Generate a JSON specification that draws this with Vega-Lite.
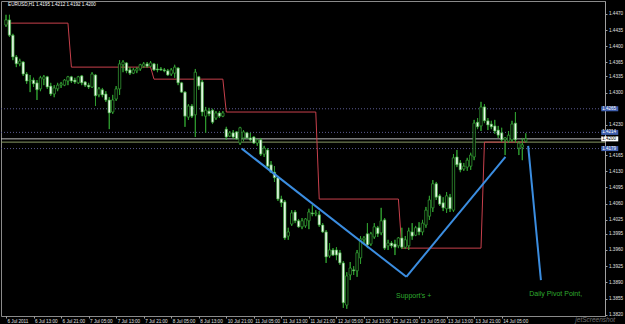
{
  "$schema": "https://vega.github.io/schema/vega-lite/v6.json",
  "width": 604,
  "height": 315,
  "autosize": "none",
  "padding": {"left": 1, "top": 1, "right": 20, "bottom": 8},
  "background": "#000000",
  "config": {
    "view": {"stroke": "#8a8a8a", "strokeWidth": 1, "fill": "#000000"},
    "font": "Liberation Sans",
    "axis": {"labelOverlap": false, "labelFlush": false, "labelBound": false, "grid": false, "title": null}
  },
  "resolve": {"axis": {"x": "independent", "y": "independent"}},
  "datasets": {
    "bars": [
      {"i":0,"o":1.4446,"h":1.4468,"l":1.4442,"c":1.4457},
      {"i":1,"o":1.4457,"h":1.4468,"l":1.4420,"c":1.4424},
      {"i":2,"o":1.4424,"h":1.4427,"l":1.4370,"c":1.4377},
      {"i":3,"o":1.4377,"h":1.4381,"l":1.4355,"c":1.4362},
      {"i":4,"o":1.4362,"h":1.4373,"l":1.4357,"c":1.4368},
      {"i":5,"o":1.4366,"h":1.4368,"l":1.4336,"c":1.4340},
      {"i":6,"o":1.4340,"h":1.4344,"l":1.4319,"c":1.4325},
      {"i":7,"o":1.4325,"h":1.4338,"l":1.4301,"c":1.4327},
      {"i":8,"o":1.4327,"h":1.4332,"l":1.4312,"c":1.4319},
      {"i":9,"o":1.4321,"h":1.4327,"l":1.4284,"c":1.4306},
      {"i":10,"o":1.4308,"h":1.4336,"l":1.4303,"c":1.4332},
      {"i":11,"o":1.4329,"h":1.4338,"l":1.4316,"c":1.4334},
      {"i":12,"o":1.4334,"h":1.4336,"l":1.4308,"c":1.4312},
      {"i":13,"o":1.4314,"h":1.4321,"l":1.4293,"c":1.4297},
      {"i":14,"o":1.4297,"h":1.4316,"l":1.4290,"c":1.4310},
      {"i":15,"o":1.4308,"h":1.4321,"l":1.4303,"c":1.4316},
      {"i":16,"o":1.4316,"h":1.4323,"l":1.4310,"c":1.4319},
      {"i":17,"o":1.4316,"h":1.4329,"l":1.4314,"c":1.4327},
      {"i":18,"o":1.4325,"h":1.4336,"l":1.4316,"c":1.4334},
      {"i":19,"o":1.4334,"h":1.4336,"l":1.4321,"c":1.4325},
      {"i":20,"o":1.4327,"h":1.4332,"l":1.4319,"c":1.4323},
      {"i":21,"o":1.4321,"h":1.4336,"l":1.4319,"c":1.4334},
      {"i":22,"o":1.4336,"h":1.4338,"l":1.4316,"c":1.4321},
      {"i":23,"o":1.4323,"h":1.4325,"l":1.4312,"c":1.4316},
      {"i":24,"o":1.4316,"h":1.4321,"l":1.4308,"c":1.4312},
      {"i":25,"o":1.4312,"h":1.4344,"l":1.4310,"c":1.4340},
      {"i":26,"o":1.4338,"h":1.4340,"l":1.4271,"c":1.4293},
      {"i":27,"o":1.4295,"h":1.4312,"l":1.4290,"c":1.4308},
      {"i":28,"o":1.4306,"h":1.4310,"l":1.4290,"c":1.4295},
      {"i":29,"o":1.4297,"h":1.4303,"l":1.4280,"c":1.4284},
      {"i":30,"o":1.4284,"h":1.4290,"l":1.4221,"c":1.4256},
      {"i":31,"o":1.4258,"h":1.4295,"l":1.4254,"c":1.4284},
      {"i":32,"o":1.4286,"h":1.4314,"l":1.4282,"c":1.4308},
      {"i":33,"o":1.4308,"h":1.4370,"l":1.4295,"c":1.4362},
      {"i":34,"o":1.4360,"h":1.4370,"l":1.4344,"c":1.4366},
      {"i":35,"o":1.4364,"h":1.4366,"l":1.4342,"c":1.4347},
      {"i":36,"o":1.4349,"h":1.4355,"l":1.4338,"c":1.4342},
      {"i":37,"o":1.4342,"h":1.4353,"l":1.4340,"c":1.4349},
      {"i":38,"o":1.4347,"h":1.4355,"l":1.4342,"c":1.4351},
      {"i":39,"o":1.4351,"h":1.4362,"l":1.4347,"c":1.4360},
      {"i":40,"o":1.4357,"h":1.4366,"l":1.4353,"c":1.4362},
      {"i":41,"o":1.4362,"h":1.4366,"l":1.4353,"c":1.4357},
      {"i":42,"o":1.4357,"h":1.4368,"l":1.4355,"c":1.4364},
      {"i":43,"o":1.4362,"h":1.4364,"l":1.4347,"c":1.4349},
      {"i":44,"o":1.4351,"h":1.4362,"l":1.4344,"c":1.4349},
      {"i":45,"o":1.4351,"h":1.4355,"l":1.4347,"c":1.4349},
      {"i":46,"o":1.4349,"h":1.4353,"l":1.4344,"c":1.4347},
      {"i":47,"o":1.4347,"h":1.4351,"l":1.4336,"c":1.4338},
      {"i":48,"o":1.4340,"h":1.4353,"l":1.4336,"c":1.4349},
      {"i":49,"o":1.4342,"h":1.4360,"l":1.4332,"c":1.4355},
      {"i":50,"o":1.4353,"h":1.4355,"l":1.4316,"c":1.4321},
      {"i":51,"o":1.4321,"h":1.4323,"l":1.4299,"c":1.4301},
      {"i":52,"o":1.4301,"h":1.4303,"l":1.4226,"c":1.4249},
      {"i":53,"o":1.4247,"h":1.4275,"l":1.4241,"c":1.4271},
      {"i":54,"o":1.4271,"h":1.4275,"l":1.4245,"c":1.4249},
      {"i":55,"o":1.4252,"h":1.4351,"l":1.4204,"c":1.4344},
      {"i":56,"o":1.4334,"h":1.4336,"l":1.4306,"c":1.4314},
      {"i":57,"o":1.4323,"h":1.4327,"l":1.4249,"c":1.4258},
      {"i":58,"o":1.4249,"h":1.4269,"l":1.4213,"c":1.4262},
      {"i":59,"o":1.4260,"h":1.4267,"l":1.4249,"c":1.4254},
      {"i":60,"o":1.4262,"h":1.4265,"l":1.4232,"c":1.4236},
      {"i":61,"o":1.4245,"h":1.4260,"l":1.4241,"c":1.4256},
      {"i":62,"o":1.4256,"h":1.4260,"l":1.4245,"c":1.4249},
      {"i":63,"o":1.4249,"h":1.4260,"l":1.4247,"c":1.4256},
      {"i":64,"o":1.4221,"h":1.4226,"l":1.4198,"c":1.4204},
      {"i":65,"o":1.4206,"h":1.4217,"l":1.4204,"c":1.4213},
      {"i":66,"o":1.4213,"h":1.4219,"l":1.4200,"c":1.4204},
      {"i":67,"o":1.4215,"h":1.4217,"l":1.4198,"c":1.4200},
      {"i":68,"o":1.4191,"h":1.4226,"l":1.4187,"c":1.4224},
      {"i":69,"o":1.4202,"h":1.4219,"l":1.4195,"c":1.4215},
      {"i":70,"o":1.4213,"h":1.4215,"l":1.4200,"c":1.4202},
      {"i":71,"o":1.4202,"h":1.4213,"l":1.4195,"c":1.4198},
      {"i":72,"o":1.4204,"h":1.4206,"l":1.4189,"c":1.4191},
      {"i":73,"o":1.4191,"h":1.4200,"l":1.4185,"c":1.4198},
      {"i":74,"o":1.4198,"h":1.4202,"l":1.4163,"c":1.4167},
      {"i":75,"o":1.4167,"h":1.4185,"l":1.4161,"c":1.4180},
      {"i":76,"o":1.4176,"h":1.4180,"l":1.4137,"c":1.4141},
      {"i":77,"o":1.4144,"h":1.4152,"l":1.4126,"c":1.4128},
      {"i":78,"o":1.4128,"h":1.4141,"l":1.4107,"c":1.4116},
      {"i":79,"o":1.4116,"h":1.4120,"l":1.4066,"c":1.4070},
      {"i":80,"o":1.4070,"h":1.4077,"l":1.4053,"c":1.4062},
      {"i":81,"o":1.4064,"h":1.4068,"l":1.3982,"c":1.3986},
      {"i":82,"o":1.3990,"h":1.4008,"l":1.3982,"c":1.3999},
      {"i":83,"o":1.4016,"h":1.4046,"l":1.4012,"c":1.4040},
      {"i":84,"o":1.4042,"h":1.4046,"l":1.4018,"c":1.4023},
      {"i":85,"o":1.4023,"h":1.4027,"l":1.4008,"c":1.4010},
      {"i":86,"o":1.4010,"h":1.4029,"l":1.4005,"c":1.4023},
      {"i":87,"o":1.4012,"h":1.4029,"l":1.4008,"c":1.4027},
      {"i":88,"o":1.4023,"h":1.4049,"l":1.4005,"c":1.4042},
      {"i":89,"o":1.4040,"h":1.4057,"l":1.4033,"c":1.4038},
      {"i":90,"o":1.4038,"h":1.4046,"l":1.4033,"c":1.4040},
      {"i":91,"o":1.4036,"h":1.4044,"l":1.4010,"c":1.4014},
      {"i":92,"o":1.4014,"h":1.4018,"l":1.3997,"c":1.3999},
      {"i":93,"o":1.3999,"h":1.4003,"l":1.3932,"c":1.3945},
      {"i":94,"o":1.3947,"h":1.3975,"l":1.3943,"c":1.3960},
      {"i":95,"o":1.3960,"h":1.3964,"l":1.3947,"c":1.3949},
      {"i":96,"o":1.3960,"h":1.3966,"l":1.3938,"c":1.3949},
      {"i":97,"o":1.3954,"h":1.3960,"l":1.3928,"c":1.3932},
      {"i":98,"o":1.3932,"h":1.3936,"l":1.3835,"c":1.3846},
      {"i":99,"o":1.3841,"h":1.3912,"l":1.3833,"c":1.3904},
      {"i":100,"o":1.3906,"h":1.3934,"l":1.3895,"c":1.3921},
      {"i":101,"o":1.3917,"h":1.3925,"l":1.3906,"c":1.3915},
      {"i":102,"o":1.3915,"h":1.3960,"l":1.3902,"c":1.3954},
      {"i":103,"o":1.3943,"h":1.3990,"l":1.3930,"c":1.3984},
      {"i":104,"o":1.3982,"h":1.3990,"l":1.3973,"c":1.3986},
      {"i":105,"o":1.3995,"h":1.4018,"l":1.3964,"c":1.3971},
      {"i":106,"o":1.3973,"h":1.3999,"l":1.3969,"c":1.3995},
      {"i":107,"o":1.3988,"h":1.4018,"l":1.3984,"c":1.4010},
      {"i":108,"o":1.4008,"h":1.4012,"l":1.3988,"c":1.3995},
      {"i":109,"o":1.3997,"h":1.4051,"l":1.3992,"c":1.4023},
      {"i":110,"o":1.4025,"h":1.4029,"l":1.3960,"c":1.3964},
      {"i":111,"o":1.3969,"h":1.3982,"l":1.3960,"c":1.3975},
      {"i":112,"o":1.3975,"h":1.3979,"l":1.3964,"c":1.3969},
      {"i":113,"o":1.3973,"h":1.3982,"l":1.3949,"c":1.3966},
      {"i":114,"o":1.3969,"h":1.3988,"l":1.3964,"c":1.3986},
      {"i":115,"o":1.3986,"h":1.4008,"l":1.3962,"c":1.3966},
      {"i":116,"o":1.3966,"h":1.3990,"l":1.3962,"c":1.3982},
      {"i":117,"o":1.3969,"h":1.4008,"l":1.3960,"c":1.4001},
      {"i":118,"o":1.3999,"h":1.4018,"l":1.3982,"c":1.3990},
      {"i":119,"o":1.3992,"h":1.4012,"l":1.3990,"c":1.4008},
      {"i":120,"o":1.4008,"h":1.4020,"l":1.3992,"c":1.3999},
      {"i":121,"o":1.3999,"h":1.4025,"l":1.3992,"c":1.4018},
      {"i":122,"o":1.4014,"h":1.4053,"l":1.4008,"c":1.4046},
      {"i":123,"o":1.4033,"h":1.4077,"l":1.4025,"c":1.4068},
      {"i":124,"o":1.4051,"h":1.4111,"l":1.4042,"c":1.4103},
      {"i":125,"o":1.4103,"h":1.4107,"l":1.4068,"c":1.4074},
      {"i":126,"o":1.4077,"h":1.4081,"l":1.4055,"c":1.4059},
      {"i":127,"o":1.4062,"h":1.4074,"l":1.4044,"c":1.4051},
      {"i":128,"o":1.4049,"h":1.4085,"l":1.4040,"c":1.4077},
      {"i":129,"o":1.4074,"h":1.4081,"l":1.4042,"c":1.4049},
      {"i":130,"o":1.4046,"h":1.4167,"l":1.4042,"c":1.4159},
      {"i":131,"o":1.4161,"h":1.4176,"l":1.4139,"c":1.4144},
      {"i":132,"o":1.4148,"h":1.4154,"l":1.4128,"c":1.4133},
      {"i":133,"o":1.4135,"h":1.4148,"l":1.4131,"c":1.4141},
      {"i":134,"o":1.4139,"h":1.4159,"l":1.4131,"c":1.4154},
      {"i":135,"o":1.4141,"h":1.4170,"l":1.4133,"c":1.4165},
      {"i":136,"o":1.4161,"h":1.4241,"l":1.4154,"c":1.4234},
      {"i":137,"o":1.4236,"h":1.4245,"l":1.4221,"c":1.4226},
      {"i":138,"o":1.4228,"h":1.4280,"l":1.4217,"c":1.4269},
      {"i":139,"o":1.4269,"h":1.4275,"l":1.4234,"c":1.4239},
      {"i":140,"o":1.4239,"h":1.4245,"l":1.4219,"c":1.4230},
      {"i":141,"o":1.4232,"h":1.4239,"l":1.4221,"c":1.4226},
      {"i":142,"o":1.4228,"h":1.4241,"l":1.4211,"c":1.4217},
      {"i":143,"o":1.4219,"h":1.4228,"l":1.4202,"c":1.4208},
      {"i":144,"o":1.4213,"h":1.4224,"l":1.4193,"c":1.4198},
      {"i":145,"o":1.4198,"h":1.4204,"l":1.4165,"c":1.4202},
      {"i":146,"o":1.4195,"h":1.4217,"l":1.4191,"c":1.4208},
      {"i":147,"o":1.4198,"h":1.4239,"l":1.4193,"c":1.4232},
      {"i":148,"o":1.4234,"h":1.4258,"l":1.4191,"c":1.4198},
      {"i":149,"o":1.4180,"h":1.4195,"l":1.4165,"c":1.4191},
      {"i":150,"o":1.4182,"h":1.4202,"l":1.4154,"c":1.4187},
      {"i":151,"o":1.4195,"h":1.4212,"l":1.4192,"c":1.4200}
    ],
    "pivot": [
      {"i":0,"p":1.4450},{"i":18,"p":1.4450},{"i":19,"p":1.4355},{"i":42,"p":1.4355},
      {"i":43,"p":1.4329},{"i":63,"p":1.4329},{"i":64,"p":1.4258},{"i":90,"p":1.4258},
      {"i":91,"p":1.4070},{"i":114,"p":1.4070},{"i":115,"p":1.3964},{"i":138,"p":1.3964},
      {"i":139,"p":1.4193},{"i":151,"p":1.4193}
    ],
    "dots": [{"p":1.4265},{"p":1.4214},{"p":1.4179}],
    "solids": [{"p":1.4200,"k":"bid"},{"p":1.4193,"k":"pivot"}],
    "trend": [
      {"t":"A","i":68.5,"p":1.4179},{"t":"A","i":116.3,"p":1.3902},
      {"t":"B","i":116.3,"p":1.3902},{"t":"B","i":145.1,"p":1.4161},
      {"t":"C","i":151.7,"p":1.4185},{"t":"C","i":155.4,"p":1.3895}
    ],
    "notes": [
      {"i":113.3,"p":1.3860,"t":"Support's  +"},
      {"i":152,"p":1.3865,"t":"Daily Pivot Point,"}
    ],
    "header": [{"i":0.6,"p":1.4489,"t":"EURUSD,H1  1.4195 1.4212 1.4192 1.4200"}],
    "mark": [{"i":165.4,"p":1.3809,"t":"jetScreenshot"}],
    "tags": [
      {"p":1.4265,"t":"1.4265","k":"line"},
      {"p":1.4214,"t":"1.4214","k":"line"},
      {"p":1.4200,"t":"1.4200","k":"bid"},
      {"p":1.4179,"t":"1.4179","k":"line"}
    ]
  },
  "layer": [
    {
      "data": {"name": "bars"},
      "mark": {"type": "rule", "color": "#2f9a2f", "strokeWidth": 1},
      "encoding": {
        "x": {
          "field": "i", "type": "quantitative",
          "scale": {"domain": [0, 172.57], "nice": false, "zero": false},
          "axis": {
            "title": null,
            "values": [0, 8, 16, 24, 32, 40, 48, 56, 64, 72, 80, 88, 96, 104, 112, 120, 128, 136, 144],
            "labelExpr": "['6 Jul 2011','6 Jul 13:00','6 Jul 21:00','7 Jul 05:00','7 Jul 13:00','7 Jul 21:00','8 Jul 05:00','8 Jul 13:00','10 Jul 21:00','11 Jul 05:00','11 Jul 13:00','11 Jul 21:00','12 Jul 05:00','12 Jul 13:00','12 Jul 21:00','13 Jul 05:00','13 Jul 13:00','13 Jul 21:00','14 Jul 05:00'][round(datum.value/8)]",
            "labelAlign": "left", "labelBaseline": "top", "labelFontSize": 4.6, "labelColor": "#e0e0e0",
            "labelPadding": 0.5, "labelOffset": 1, "tickSize": 2, "tickColor": "#a0a0a0",
            "domain": false, "grid": false, "labelOverlap": false, "labelFlush": false, "labelBound": false
          }
        },
        "y": {
          "field": "l", "type": "quantitative",
          "scale": {"domain": [1.38174, 1.44978], "nice": false, "zero": false},
          "axis": {
            "title": null, "orient": "right",
            "values": [1.4470, 1.4435, 1.4400, 1.4365, 1.4335, 1.4300, 1.4230, 1.4165, 1.4130, 1.4095, 1.4060, 1.4025, 1.3995, 1.3960, 1.3925, 1.3890, 1.3855, 1.3820],
            "format": ".4f", "labelAlign": "left", "labelBaseline": "middle", "labelFontSize": 4.6,
            "labelColor": "#e0e0e0", "labelPadding": 1.5, "tickSize": 2, "tickColor": "#a0a0a0",
            "domain": true, "domainColor": "#a0a0a0", "grid": false,
            "labelOverlap": false, "labelFlush": false, "labelBound": false
          }
        },
        "y2": {"field": "h"}
      }
    },
    {
      "data": {"name": "dots"},
      "mark": {"type": "rule", "color": "#5c5c92", "strokeWidth": 1, "strokeDash": [1, 2]},
      "encoding": {
        "y": {"field": "p", "type": "quantitative", "scale": {"domain": [1.38174, 1.44978], "nice": false, "zero": false}, "axis": null}
      }
    },
    {
      "data": {"name": "solids"},
      "mark": {"type": "rule", "strokeWidth": 1},
      "encoding": {
        "y": {"field": "p", "type": "quantitative", "scale": {"domain": [1.38174, 1.44978], "nice": false, "zero": false}, "axis": null},
        "color": {"condition": {"test": "datum.k == 'bid'", "value": "#bdbdbd"}, "value": "#8a9a66"}
      }
    },
    {
      "data": {"name": "pivot"},
      "mark": {"type": "line", "color": "#c8404c", "strokeWidth": 1},
      "encoding": {
        "x": {"field": "i", "type": "quantitative", "scale": {"domain": [0, 172.57], "nice": false, "zero": false}, "axis": null},
        "y": {"field": "p", "type": "quantitative", "scale": {"domain": [1.38174, 1.44978], "nice": false, "zero": false}, "axis": null}
      }
    },
    {
      "data": {"name": "bars"},
      "mark": {"type": "rule", "color": "#2f9a2f", "strokeWidth": 1},
      "encoding": {
        "x": {"field": "i", "type": "quantitative", "scale": {"domain": [0, 172.57], "nice": false, "zero": false}, "axis": null},
        "y": {"field": "l", "type": "quantitative", "scale": {"domain": [1.38174, 1.44978], "nice": false, "zero": false}, "axis": null},
        "y2": {"field": "h"}
      }
    },
    {
      "data": {"name": "bars"},
      "mark": {"type": "bar", "width": 2.4, "stroke": "#38a838", "strokeWidth": 0.7},
      "encoding": {
        "x": {"field": "i", "type": "quantitative", "scale": {"domain": [0, 172.57], "nice": false, "zero": false}, "axis": null},
        "y": {"field": "o", "type": "quantitative", "scale": {"domain": [1.38174, 1.44978], "nice": false, "zero": false}, "axis": null},
        "y2": {"field": "c"},
        "fill": {"condition": {"test": "datum.c < datum.o", "value": "#eefaee"}, "value": "#000000"}
      }
    },
    {
      "data": {"name": "trend"},
      "mark": {"type": "line", "color": "#3b8de0", "strokeWidth": 2},
      "encoding": {
        "x": {"field": "i", "type": "quantitative", "scale": {"domain": [0, 172.57], "nice": false, "zero": false}, "axis": null},
        "y": {"field": "p", "type": "quantitative", "scale": {"domain": [1.38174, 1.44978], "nice": false, "zero": false}, "axis": null},
        "detail": {"field": "t", "type": "nominal"}
      }
    },
    {
      "data": {"name": "notes"},
      "mark": {"type": "text", "align": "left", "baseline": "middle", "fontSize": 7, "color": "#2faa2f", "font": "Liberation Sans"},
      "encoding": {
        "x": {"field": "i", "type": "quantitative", "scale": {"domain": [0, 172.57], "nice": false, "zero": false}, "axis": null},
        "y": {"field": "p", "type": "quantitative", "scale": {"domain": [1.38174, 1.44978], "nice": false, "zero": false}, "axis": null},
        "text": {"field": "t"}
      }
    },
    {
      "data": {"name": "header"},
      "mark": {"type": "text", "align": "left", "baseline": "middle", "fontSize": 4.6, "color": "#ffffff", "font": "Liberation Sans"},
      "encoding": {
        "x": {"field": "i", "type": "quantitative", "scale": {"domain": [0, 172.57], "nice": false, "zero": false}, "axis": null},
        "y": {"field": "p", "type": "quantitative", "scale": {"domain": [1.38174, 1.44978], "nice": false, "zero": false}, "axis": null},
        "text": {"field": "t"}
      }
    },
    {
      "data": {"name": "mark"},
      "mark": {"type": "text", "align": "left", "baseline": "middle", "fontSize": 6.5, "fontStyle": "italic", "color": "#8c8c8c", "opacity": 0.8, "font": "Liberation Sans"},
      "encoding": {
        "x": {"field": "i", "type": "quantitative", "scale": {"domain": [0, 172.57], "nice": false, "zero": false}, "axis": null},
        "y": {"field": "p", "type": "quantitative", "scale": {"domain": [1.38174, 1.44978], "nice": false, "zero": false}, "axis": null},
        "text": {"field": "t"}
      }
    },
    {
      "data": {"name": "tags"},
      "mark": {"type": "tick", "orient": "horizontal", "size": 17, "thickness": 5, "opacity": 1},
      "encoding": {
        "x": {"datum": 175.4, "type": "quantitative", "scale": {"domain": [0, 172.57], "nice": false, "zero": false}, "axis": null},
        "y": {"field": "p", "type": "quantitative", "scale": {"domain": [1.38174, 1.44978], "nice": false, "zero": false}, "axis": null},
        "color": {"condition": {"test": "datum.k == 'bid'", "value": "#ffffff"}, "value": "#3f5fae"}
      }
    },
    {
      "data": {"name": "tags"},
      "mark": {"type": "text", "align": "left", "baseline": "middle", "fontSize": 4.5, "font": "Liberation Sans"},
      "encoding": {
        "x": {"datum": 173.2, "type": "quantitative", "scale": {"domain": [0, 172.57], "nice": false, "zero": false}, "axis": null},
        "y": {"field": "p", "type": "quantitative", "scale": {"domain": [1.38174, 1.44978], "nice": false, "zero": false}, "axis": null},
        "text": {"field": "t"},
        "fill": {"condition": {"test": "datum.k == 'bid'", "value": "#000000"}, "value": "#ffffff"}
      }
    }
  ]
}
